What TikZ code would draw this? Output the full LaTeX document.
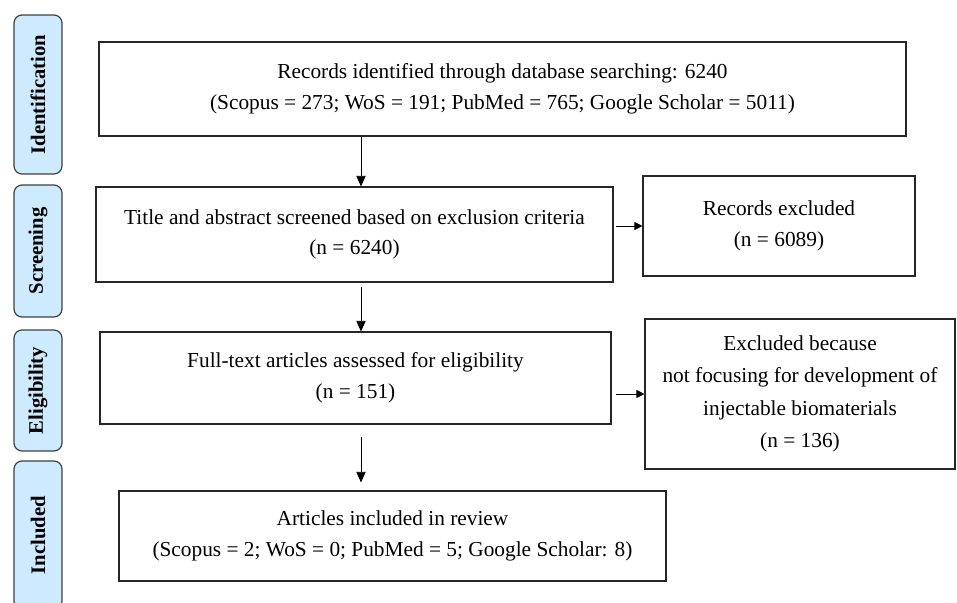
\documentclass[tikz,border=0pt]{standalone}
\usepackage{fontspec}
\setmainfont{Liberation Serif}
\usetikzlibrary{arrows.meta}

\definecolor{azuletapa}{RGB}{205,234,254}

\tikzset{
  caja/.style={draw=black!85, line width=0.8pt, align=center, inner sep=0pt,
    font=\fontsize{16}{23}\selectfont},
  etapa/.style={draw=black!75, line width=0.9pt, fill=azuletapa, rounded corners=6pt,
    rotate=90, inner sep=0pt, minimum height=36pt, font=\fontsize{15.5}{16}\selectfont\bfseries},
  flecha/.style={-{Triangle[length=8pt,width=7pt]}, line width=0.7pt},
  flechita/.style={-{Triangle[length=6pt,width=6pt]}, line width=0.7pt}
}

\begin{document}
\begin{tikzpicture}[x=0.75pt, y=-0.75pt]

  \useasboundingbox (0,0) rectangle (957,603);

  % Etapas (izquierda)
  \node[etapa, minimum width=119.25pt] (lid) at (38,94.5) {Identification};
  \node[etapa, minimum width=99pt] (lsc) at (38,251) {Screening};
  \node[etapa, minimum width=90.75pt] (lel) at (38,390.5) {Eligibility};
  \node[etapa, minimum width=111pt] (linc) at (38,535) {Included};

  % Cajas principales
  \begin{scope}[every node/.style={caja}]
    \node[minimum width=605.25pt, minimum height=70.5pt] (id) at (502.5,89)
      {Records identified through database searching: 6240\\
       (Scopus = 273; WoS = 191; PubMed = 765; Google Scholar = 5011)};
    \node[minimum width=387.75pt, minimum height=71.25pt] (sc) at (354.5,234.5)
      {Title and abstract screened based on exclusion criteria\\(n = 6240)};
    \node[minimum width=383.25pt, minimum height=69pt] (el) at (355.5,378)
      {Full-text articles assessed for eligibility\\(n = 151)};
    \node[minimum width=410.25pt, minimum height=67.5pt] (inc) at (392.5,536)
      {Articles included in review\\
       (Scopus = 2; WoS = 0; PubMed = 5; Google Scholar: 8)};
  \end{scope}

  % Excluidos (derecha)
  \begin{scope}[every node/.style={caja}]
    \node[minimum width=204pt, minimum height=75pt] (ex1) at (779,226)
      {Records excluded\\(n = 6089)};
    \node[minimum width=232.5pt, minimum height=112.5pt,
      font=\fontsize{16}{24.4}\selectfont] (ex2) at (800,394)
      {Excluded because\\not focusing for development of\\injectable biomaterials\\(n = 136)};
  \end{scope}

  \coordinate (eje) at (361,0);

  \draw[flecha] (id.south -| eje) -- (sc.north -| eje);
  \draw[flecha, shorten <=3pt] (sc.south -| eje) -- (el.north -| eje);
  \draw[flecha, shorten <=9pt, shorten >=6pt] (el.south -| eje) -- (inc.north -| eje);

  \draw[flechita, shorten <=2pt] (sc.east |- ex1.west) -- (ex1.west);
  \draw[flechita, shorten <=3pt] (el.east |- ex2.west) -- (ex2.west);

\end{tikzpicture}
\end{document}
